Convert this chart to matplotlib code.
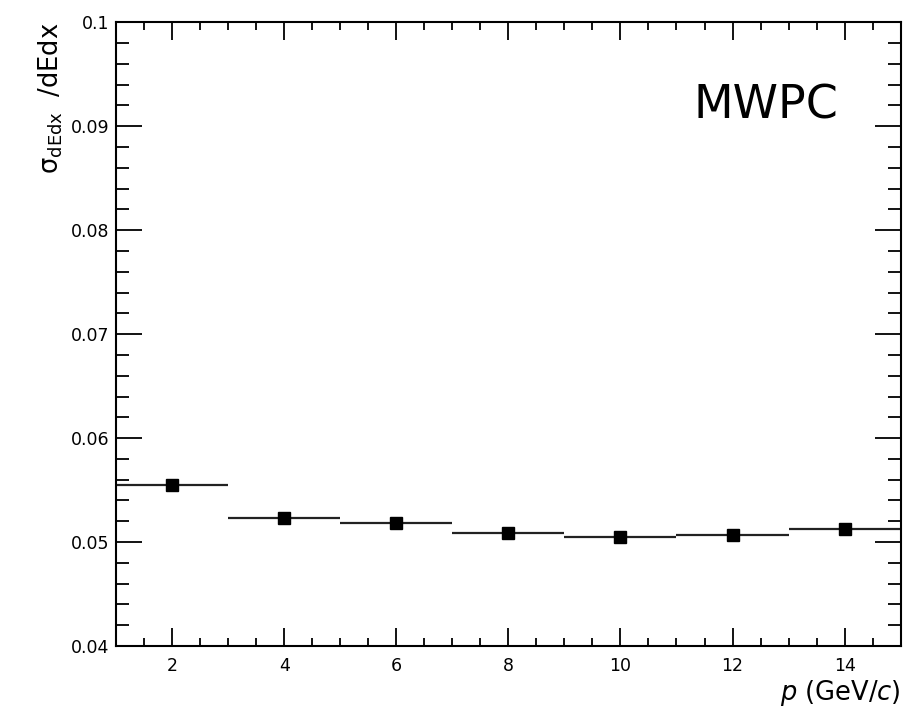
import numpy as np
import matplotlib
matplotlib.use("Agg")
from matplotlib import pyplot as plt
from matplotlib.ticker import MultipleLocator

# momentum bins (GeV/c), half-widths and resolution
p = [2, 4, 6, 8, 10, 12, 14]
p_err = [1, 1, 1, 1, 1, 1, 1]
resolution = [0.0555, 0.0523, 0.0518, 0.0509, 0.0505, 0.0507, 0.0513]

fig = plt.figure(figsize=(9.07, 7.17), dpi=100)
ax = fig.add_axes([0.128, 0.099, 0.865, 0.870])

ax.errorbar(p, resolution, xerr=p_err, fmt="s", color="black", ecolor="#222222",
            markersize=9, elinewidth=1.6, capsize=0)

ax.set_xlim(1, 15)
ax.set_ylim(0.04, 0.1)
ax.xaxis.set_major_locator(MultipleLocator(2))
ax.xaxis.set_minor_locator(MultipleLocator(0.5))
ax.yaxis.set_minor_locator(MultipleLocator(0.002))
ax.set_yticks([0.04, 0.05, 0.06, 0.07, 0.08, 0.09, 0.1])
ax.set_yticklabels(["0.04", "0.05", "0.06", "0.07", "0.08", "0.09", "0.1"])

ax.tick_params(which="both", direction="in", top=True, right=True, labelsize=12.5, width=1.3)
ax.tick_params(axis="x", which="major", length=13, pad=8)
ax.tick_params(axis="x", which="minor", length=6)
ax.tick_params(axis="y", which="major", length=19, pad=5)
ax.tick_params(axis="y", which="minor", length=9.5)
for s in ax.spines.values():
    s.set_linewidth(1.5)

ax.set_xlabel(r"$p$ (GeV/$c$)", fontsize=18.5, loc="right", labelpad=2)
ax.set_ylabel(r"$\mathrm{\sigma}_{\mathsf{dEdx}}\;$ /dEdx", fontsize=18.5, loc="top", labelpad=4)

ax.text(0.92, 0.865, "MWPC", transform=ax.transAxes, fontsize=33, ha="right", va="center")

fig.savefig("out.png", dpi=100)
